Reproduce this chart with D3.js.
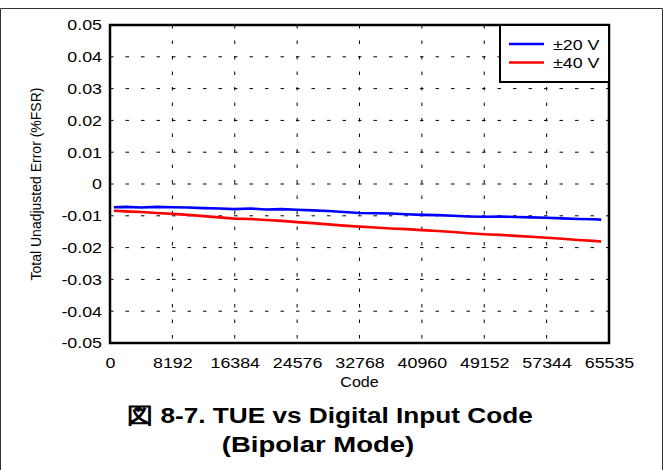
<!DOCTYPE html>
<html><head><meta charset="utf-8">
<script src="https://cdn.jsdelivr.net/npm/d3@7"></script>
<style>
body{margin:0;background:#fff}
text{font-family:"Liberation Sans",Arial,Helvetica,sans-serif;fill:#000}
</style>
</head><body>
<svg id="chart" width="663" height="470"></svg>
<script>
// ---- data ----
const codes=[512,2048,4096,6144,8192,10240,12288,14336,16384,18432,20480,22528,24576,26624,28672,30720,32768,34816,36864,38912,40960,43008,45056,47104,49152,51200,53248,55296,57344,59392,61440,63488,64512];
const tue20=[-0.0073,-0.0072,-0.0074,-0.0072,-0.0073,-0.0074,-0.0076,-0.0077,-0.0079,-0.0077,-0.0080,-0.0079,-0.0081,-0.0083,-0.0085,-0.0088,-0.0091,-0.0092,-0.0093,-0.0095,-0.0097,-0.0098,-0.0100,-0.0102,-0.0103,-0.0102,-0.0104,-0.0105,-0.0106,-0.0108,-0.0110,-0.0111,-0.0112];
const tue40=[-0.0084,-0.0086,-0.0088,-0.0091,-0.0094,-0.0097,-0.0101,-0.0105,-0.0109,-0.0110,-0.0113,-0.0116,-0.0120,-0.0123,-0.0127,-0.0131,-0.0134,-0.0137,-0.0140,-0.0142,-0.0145,-0.0148,-0.0151,-0.0155,-0.0158,-0.0160,-0.0163,-0.0166,-0.0169,-0.0172,-0.0176,-0.0179,-0.0181];
const seriesNames=["±20 V","±40 V"];
const seriesColors=["#0000ff","#ff0000"];
const xTicks=[0,8192,16384,24576,32768,40960,49152,57344,65535];
const yTicks=[0.05,0.04,0.03,0.02,0.01,0,-0.01,-0.02,-0.03,-0.04,-0.05];
const xLabel="Code";
const yLabel="Total Unadjusted Error (%FSR)";
const titleLines=["図 8-7. TUE vs Digital Input Code","(Bipolar Mode)"];

// ---- layout ----
const svg=d3.select("#chart");
const L=110,T=25,R=609,B=343;
const SX=1.15; // horizontal text stretch seen in reference
const x=d3.scaleLinear().domain([0,65535]).range([L,R]);
const y=d3.scaleLinear().domain([-0.05,0.05]).range([B,T]);

function stretch(sel,sx,cx){
  sel.attr("transform",function(){
    const xx=cx!==undefined?cx:(+d3.select(this).attr("x")||0);
    return `translate(${xx},0) scale(${sx},1) translate(${-xx},0)`;
  });
}

// outer border
svg.append("path").attr("d","M0.5,470 V8.5 H662.5 V470").attr("fill","none").attr("stroke","#333").attr("stroke-width",1);

// grid
const g=svg.append("g");
g.selectAll("line.hg").data(yTicks.slice(1,-1)).join("line")
 .attr("x1",L).attr("x2",R).attr("y1",d=>y(d)).attr("y2",d=>y(d))
 .attr("stroke","#000").attr("stroke-width",1).attr("stroke-dasharray","3.5,12");
g.selectAll("line.vg").data(xTicks.slice(1,-1)).join("line")
 .attr("y1",T).attr("y2",B).attr("x1",d=>x(d)).attr("x2",d=>x(d))
 .attr("stroke","#000").attr("stroke-width",1).attr("stroke-dasharray","3.5,12");

// series
const line=d3.line().x((d,i)=>x(codes[i])).y(d=>y(d));
[tue20,tue40].forEach((s,k)=>{
  svg.append("path").datum(s).attr("d",line).attr("fill","none")
   .attr("stroke",seriesColors[k]).attr("stroke-width",2.6).attr("stroke-linejoin","round");
});

// axes
const xa=svg.append("g").attr("transform",`translate(0,${B})`)
 .call(d3.axisBottom(x).tickValues(xTicks).tickSize(0).tickPadding(14).tickFormat(d3.format("d")));
const ya=svg.append("g").attr("transform",`translate(${L},0)`)
 .call(d3.axisLeft(y).tickValues(yTicks).tickSize(0).tickPadding(8).tickFormat(d=>d===0?"0":d.toFixed(2)));
[xa,ya].forEach(a=>{a.select(".domain").remove();a.selectAll("text").attr("font-size",15.5).attr("font-family","Liberation Sans, Arial, sans-serif");});
xa.selectAll("text").call(s=>stretch(s,SX,0));
ya.selectAll("text").call(s=>stretch(s,SX,-8));

// frame
svg.append("rect").attr("x",L).attr("y",T).attr("width",R-L).attr("height",B-T)
 .attr("fill","none").attr("stroke","#000").attr("stroke-width",2.5);

// legend
const lg=svg.append("g");
lg.append("rect").attr("x",500).attr("y",T).attr("width",R-500).attr("height",57)
 .attr("fill","#fff").attr("stroke","#000").attr("stroke-width",2);
seriesNames.forEach((n,k)=>{
  const yy=44+k*18.5;
  lg.append("line").attr("x1",509).attr("x2",544).attr("y1",yy).attr("y2",yy)
   .attr("stroke",seriesColors[k]).attr("stroke-width",2.5);
  lg.append("text").attr("x",553).attr("y",yy+6).attr("font-size",15.5).text(n).call(s=>stretch(s,SX));
});

// axis titles
svg.append("text").attr("x",(L+R)/2).attr("y",387).attr("text-anchor","middle")
 .attr("font-size",14).text(xLabel).call(s=>stretch(s,SX));
svg.append("text").attr("transform",`translate(41,${(T+B)/2}) rotate(-90)`)
 .attr("text-anchor","middle").attr("font-size",14).text(yLabel);

// chart title
svg.append("text").attr("x",330).attr("y",423).attr("text-anchor","middle")
 .attr("font-size",22).attr("font-weight","bold").text(titleLines[0]).call(s=>stretch(s,1.19));
svg.append("text").attr("x",318).attr("y",452).attr("text-anchor","middle")
 .attr("font-size",22).attr("font-weight","bold").text(titleLines[1]).call(s=>stretch(s,1.25));
</script>
</body></html>
